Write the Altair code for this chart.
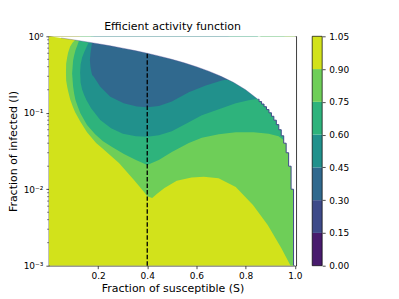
import altair as alt
import pandas as pd

# ---- colour levels (colorbar) ----
levels = [0.0, 0.15, 0.30, 0.45, 0.60, 0.75, 0.90, 1.05]
level_colors = ["#481b6d", "#3e4a89", "#30698e", "#21918c", "#2eb37c", "#6ece58", "#d2e21b"]

# ---- whole domain (band 0.90-1.05) ----
base_S = [0.0, 1.0]
base_lo = [0.001, 0.001]
base_hi = [1.0, 1.0]

# ---- region where value < 0.90 ----
lg_S = [0.0694, 0.0702, 0.0742, 0.0783, 0.0864, 0.0966, 0.1067, 0.127, 0.155, 0.192,
        0.216, 0.285, 0.346, 0.387, 0.400, 0.42, 0.44, 0.47, 0.52, 0.58,
        0.63, 0.69, 0.76, 0.83, 0.89, 0.945, 0.983, 1.0]
lg_lo = [0.337, 0.265, 0.221, 0.1905, 0.150, 0.1215, 0.1016, 0.0775, 0.0557, 0.0401,
         0.0345, 0.0220, 0.0132, 0.0092, 0.0081, 0.0077, 0.0087, 0.0104, 0.0129, 0.0142,
         0.0146, 0.0139, 0.0107, 0.0062, 0.0034, 0.0017, 0.001, 0.001]
lg_hi = [0.337, 0.441, 0.528, 0.613, 0.734, 0.828, 0.892, 1.0, 1.0, 1.0,
         1.0, 1.0, 1.0, 1.0, 1.0, 1.0, 1.0, 1.0, 1.0, 1.0,
         1.0, 1.0, 1.0, 1.0, 1.0, 1.0, 1.0, 1.0]

# ---- region where value < 0.75 ----
g_S = [0.0945, 0.0966, 0.0986, 0.1026, 0.108, 0.117, 0.128, 0.155, 0.188, 0.220,
       0.257, 0.305, 0.354, 0.400, 0.447, 0.500, 0.569, 0.622, 0.691, 0.760,
       0.833, 0.894, 0.934, 0.958]
g_lo = [0.327, 0.265, 0.219, 0.179, 0.147, 0.1215, 0.0986, 0.0694, 0.0525, 0.0425,
        0.0356, 0.0288, 0.0241, 0.0207, 0.0241, 0.0306, 0.0401, 0.0472, 0.0525, 0.0557,
        0.0557, 0.0533, 0.0494, 0.043]
g_hi = [0.327, 0.403, 0.487, 0.561, 0.657, 0.780, 1.0, 1.0, 1.0, 1.0,
        1.0, 1.0, 1.0, 1.0, 1.0, 1.0, 1.0, 1.0, 1.0, 1.0,
        1.0, 1.0, 1.0, 1.0]

# ---- region where value < 0.60 ----
t_S = [0.127, 0.129, 0.135, 0.143, 0.153, 0.1635, 0.1716, 0.209, 0.253, 0.301,
       0.354, 0.400, 0.447, 0.500, 0.569, 0.622, 0.691, 0.760, 0.8126, 0.85]
t_lo = [0.337, 0.249, 0.202, 0.1715, 0.1455, 0.127, 0.1145, 0.0806, 0.0628, 0.0533,
        0.0494, 0.0484, 0.0509, 0.0574, 0.0752, 0.0928, 0.111, 0.133, 0.1455, 0.152]
t_hi = [0.337, 0.428, 0.528, 0.613, 0.723, 0.853, 1.0, 1.0, 1.0, 1.0,
        1.0, 1.0, 1.0, 1.0, 1.0, 1.0, 1.0, 1.0, 1.0, 1.0]

# ---- region where value < 0.45 ----
b_S = [0.1667, 0.169, 0.1724, 0.176, 0.1826, 0.209, 0.250, 0.304, 0.358, 0.400,
       0.447, 0.500, 0.569, 0.638, 0.703, 0.731]
b_lo = [0.483, 0.400, 0.347, 0.3125, 0.296, 0.219, 0.1625, 0.133, 0.1205, 0.118,
        0.123, 0.140, 0.186, 0.228, 0.265, 0.275]
b_hi = [0.483, 0.595, 0.713, 0.846, 1.0, 1.0, 1.0, 1.0, 1.0, 1.0,
        1.0, 1.0, 1.0, 1.0, 1.0, 1.0]

# ---- domain edge S + I = 1 (outside is blank) ----
edge1_S = [0.0, 0.05, 0.1, 0.15, 0.2, 0.25, 0.3, 0.35, 0.4, 0.45, 0.5, 0.55,
           0.6, 0.65, 0.7, 0.75, 0.8, 0.85, 0.86]
edge1_I = [1.0, 0.95, 0.9, 0.85, 0.8, 0.75, 0.7, 0.65, 0.6, 0.55, 0.5, 0.45,
           0.4, 0.35, 0.3, 0.25, 0.2, 0.15, 0.14]
edge2_S = [0.85, 0.86, 0.87, 0.88, 0.89, 0.90, 0.91, 0.92, 0.93, 0.94, 0.95,
           0.96, 0.97, 0.98, 0.99, 1.0, 1.006]
edge2_I = [0.15, 0.14, 0.13, 0.12, 0.11, 0.10, 0.09, 0.08, 0.07, 0.06, 0.05,
           0.04, 0.03, 0.02, 0.01, 0.001, 0.001]

# ---- dashed marker line ----
dash_S = [0.4]
dash_lo = [0.001]
dash_hi = [0.6]

# ---- axes ----
x_ticks = [0.2, 0.4, 0.6, 0.8, 1.0]
y_ticks = [0.001, 0.01, 0.1, 1.0]
y_tick_labels = ["10⁻³", "10⁻²", "10⁻¹", "10⁰"]
y_minor = [0.002, 0.003, 0.004, 0.005, 0.006, 0.007, 0.008, 0.009,
           0.02, 0.03, 0.04, 0.05, 0.06, 0.07, 0.08, 0.09,
           0.2, 0.3, 0.4, 0.5, 0.6, 0.7, 0.8, 0.9]

FONT = "DejaVu Sans"

expr = "''"
for v, lab in zip(y_ticks, y_tick_labels):
    expr = f"(abs(datum.value - {v}) < {v}*0.01) ? '{lab}' : ({expr})"

xscale = alt.Scale(domain=[0.0, 1.006], nice=False, zero=False)
yscale = alt.Scale(type="log", domain=[0.001, 1.0], nice=False)
xaxis = alt.Axis(values=x_ticks, format=".1f", title="Fraction of susceptible (S)",
                 tickSize=3, labelPadding=3, titlePadding=2, orient="bottom")
yaxis = alt.Axis(values=y_ticks, labelExpr=expr, title="Fraction of infected (I)",
                 tickSize=3, labelPadding=3, titlePadding=5, orient="left")


def X(field):
    return alt.X(field, type="quantitative", scale=xscale, axis=xaxis)


def Y(field):
    return alt.Y(field, type="quantitative", scale=yscale, axis=yaxis)


def region(S, lo, hi, color, interp="linear"):
    df = pd.DataFrame({"S": S, "lo": lo, "hi": hi})
    return alt.Chart(df).mark_area(color=color, interpolate=interp, clip=True).encode(
        x=X("S"), y=Y("lo"), y2="hi")


layers = [
    region(base_S, base_lo, base_hi, level_colors[6]),
    region(lg_S, lg_lo, lg_hi, level_colors[5]),
    region(g_S, g_lo, g_hi, level_colors[4]),
    region(t_S, t_lo, t_hi, level_colors[3]),
    region(b_S, b_lo, b_hi, level_colors[2]),
]

e1 = pd.DataFrame({"S": edge1_S, "I": edge1_I, "top": [1.0] * len(edge1_S)})
e2 = pd.DataFrame({"S": edge2_S, "I": edge2_I, "top": [1.0] * len(edge2_S)})
layers.append(alt.Chart(e1).mark_area(color="white", clip=True).encode(x=X("S"), y=Y("I"), y2="top"))
layers.append(alt.Chart(e2).mark_area(color="white", interpolate="step", clip=True).encode(x=X("S"), y=Y("I"), y2="top"))
layers.append(alt.Chart(e1[(e1.S > 0.02) & (e1.S <= 0.85)]).mark_line(color="#5b4f96", strokeWidth=0.8, opacity=0.45, clip=True).encode(x=X("S"), y=Y("I")))
layers.append(alt.Chart(e2[e2.S <= 1.0]).mark_line(color="#3e4a89", strokeWidth=1.0, interpolate="step", clip=True).encode(x=X("S"), y=Y("I")))

dash_df = pd.DataFrame({"S": dash_S, "lo": dash_lo, "hi": dash_hi})
layers.append(alt.Chart(dash_df).mark_rule(color="black", strokeWidth=1.3, strokeDash=[4.5, 2]).encode(
    x=X("S"), y=Y("lo"), y2="hi"))

minor_df = pd.DataFrame({"I": y_minor})
layers.append(alt.Chart(minor_df).mark_rule(color="black", strokeWidth=0.5).encode(
    y=Y("I"), x=alt.value(0), x2=alt.value(-1.8)))

main = alt.layer(*layers)

# ---- colorbar ----
cb_df = pd.DataFrame({"lo": levels[:-1], "hi": levels[1:], "c": level_colors})
cb_scale = alt.Scale(domain=[levels[0], levels[-1]], nice=False, zero=False)
cb_axis = alt.Axis(orient="right", values=levels, format=".2f", offset=26, tickSize=3,
                   labelPadding=3.5, domain=False, title=None)
cb = alt.Chart(cb_df).mark_rect().encode(
    x=alt.value(264), x2=alt.value(274),
    y=alt.Y("lo:Q", scale=cb_scale, axis=cb_axis), y2="hi:Q",
    color=alt.Color("c:N", scale=None))
cb_out_df = pd.DataFrame({"lo": [levels[0]], "hi": [levels[-1]]})
cb_out = alt.Chart(cb_out_df).mark_rect(fillOpacity=0, stroke="black", strokeWidth=0.7).encode(
    x=alt.value(264), x2=alt.value(274),
    y=alt.Y("lo:Q", scale=cb_scale, axis=cb_axis), y2="hi:Q")
colorbar = alt.layer(cb, cb_out)

chart = alt.layer(main, colorbar).resolve_scale(y="independent").properties(
    width=248, height=230,
    title=alt.Title("Efficient activity function", font=FONT, fontSize=11,
                    fontWeight="normal", color="black", offset=4, dy=4, frame="group",
                    anchor="middle"),
    autosize=alt.AutoSizeParams(type="none"),
    padding={"left": 41, "top": 28, "right": 95, "bottom": 28},
).configure(font=FONT).configure_view(stroke="black", strokeWidth=0.8).configure_axis(
    grid=False, domain=False, labelFont=FONT, labelFontSize=9, labelColor="black",
    titleFont=FONT, titleFontSize=11, titleFontWeight="normal", titleColor="black",
    tickColor="black", tickWidth=0.7)

chart.save("out.html", embed_options={"renderer": "svg", "actions": False})
